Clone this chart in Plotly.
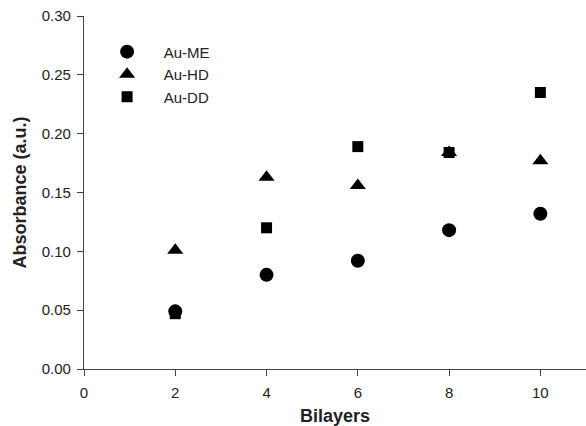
import plotly.graph_objects as go

bilayers = [2, 4, 6, 8, 10]
au_me = [0.049, 0.080, 0.092, 0.118, 0.132]
au_hd = [0.101, 0.163, 0.156, 0.184, 0.177]
au_dd = [0.047, 0.120, 0.189, 0.184, 0.235]
series_names = ["Au-ME", "Au-HD", "Au-DD"]

pad = "\u00a0\u00a0\u00a0\u00a0"

fig = go.Figure()
fig.add_trace(go.Scatter(x=bilayers, y=au_me, mode="markers", name=pad + series_names[0],
                         marker=dict(symbol="circle", size=14, color="black")))
fig.add_trace(go.Scatter(x=bilayers, y=au_hd, mode="markers", name=pad + series_names[1],
                         marker=dict(symbol="triangle-up", size=14, color="black")))
fig.add_trace(go.Scatter(x=bilayers, y=au_dd, mode="markers", name=pad + series_names[2],
                         marker=dict(symbol="square", size=11, color="black")))

axis_common = dict(showline=True, linecolor="#444", linewidth=1.3, ticks="outside",
                   ticklen=6, tickcolor="#444", showgrid=False, zeroline=False,
                   tickfont=dict(family="Arial, Liberation Sans", size=15, color="#222"))

fig.update_layout(
    width=586, height=426,
    margin=dict(l=84, r=0, t=16, b=57),
    plot_bgcolor="white", paper_bgcolor="white",
    font=dict(family="Arial, Liberation Sans", color="#222"),
    xaxis=dict(range=[0, 11], tickvals=[0, 2, 4, 6, 8, 10], ticklabelstandoff=4,
               title=dict(text="<b>Bilayers</b>", font=dict(size=18, color="#222"), standoff=10),
               **axis_common),
    yaxis=dict(range=[0, 0.30], tickvals=[0, 0.05, 0.10, 0.15, 0.20, 0.25, 0.30],
               tickformat=".2f", ticklabelstandoff=3,
               title=dict(text="<b>Absorbance (a.u.)</b>", font=dict(size=18, color="#222"), standoff=10),
               **axis_common),
    legend=dict(x=0.046, y=0.945, xanchor="left", yanchor="top",
                bgcolor="rgba(0,0,0,0)", font=dict(size=15, color="#222"),
                itemsizing="trace", tracegroupgap=0),
    showlegend=True,
)

fig.write_html("out.html", config={"responsive": False, "displayModeBar": False},
               post_script="document.body.style.margin='0';document.body.style.padding='0';")
